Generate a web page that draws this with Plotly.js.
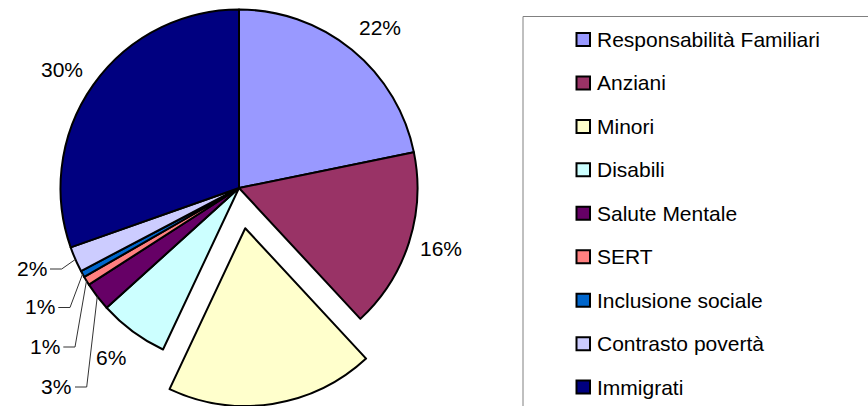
<!DOCTYPE html>
<html>
<head>
<meta charset="utf-8">
<script src="https://cdn.plot.ly/plotly-3.0.1.min.js"></script>
<style>html,body{margin:0;padding:0;background:#fff;overflow:hidden}#chart{width:868px;height:406px}</style>
</head>
<body>
<div id="chart"></div>
<script>
// ---- data ----
const labels = ["Responsabilità Familiari", "Anziani", "Minori", "Disabili", "Salute Mentale", "SERT", "Inclusione sociale", "Contrasto povertà", "Immigrati"];
const values = [21.8, 16.3, 18.9, 6.3, 2.6, 0.8, 0.6, 2.3, 30.4];
const colors = ["#9999FF", "#993366", "#FFFFCC", "#CCFFFF", "#660066", "#FF8080", "#0066CC", "#CCCCFF", "#000080"];
const explodedIndex = 2;

// ---- layout constants (pixels) ----
const W = 868, H = 406;
const CX = 239, CY = 188, R = 178.5;
const PULL_PX = 40.7;
const FONT = {family: "Liberation Sans, Arial, Helvetica, sans-serif", size: 21, color: "#000"};
// small slices get labels with leader lines: text centre and elbow
const smallLabels = {
  7: {tx: 31.5, ty: 268, x0: 50, ex: 61.7},
  6: {tx: 39.5, ty: 306.5, x0: 58.3, ex: 70},
  5: {tx: 44.5, ty: 346, x0: 63.3, ex: 75},
  4: {tx: 56, ty: 386, x0: 75, ex: 86.7}
};
// small nudges of the outside labels of the big slices
const labelNudge = {0: [6.5, 4], 1: [0, -5], 8: [-3.5, 4.5], 3: [-1, -1]};

const px = x => x / W, py = y => 1 - y / H;
const total = values.reduce((a, b) => a + b, 0);
let cum = 0; const mids = [];
values.forEach(v => { mids.push((cum + v / 2) / total); cum += v; });
const dir = f => { const a = f * 2 * Math.PI; return [Math.sin(a), -Math.cos(a)]; };

const off = dir(mids[explodedIndex]).map(d => d * PULL_PX);
const cBx = CX + off[0], cBy = CY + off[1];
const rB = Math.min(R, H - cBy, cBy);

const transparent = "rgba(0,0,0,0)";
const common = {
  type: "pie", labels: labels, values: values, sort: false, direction: "clockwise", rotation: 0,
  textinfo: "none", hoverinfo: "label+percent", showlegend: false
};
const traceA = Object.assign({}, common, {
  domain: {x: [px(CX - R), px(CX + R)], y: [py(CY + R), py(CY - R)]},
  marker: {
    colors: colors.map((c, i) => i === explodedIndex ? transparent : c),
    line: {color: "#000", width: colors.map((c, i) => i === explodedIndex ? 0 : 2)}
  }
});
const traceB = Object.assign({}, common, {
  domain: {x: [px(cBx - rB), px(cBx + rB)], y: [Math.max(0, py(cBy + rB)), py(cBy - rB)]},
  marker: {
    colors: colors.map((c, i) => i === explodedIndex ? c : transparent),
    line: {color: "#000", width: colors.map((c, i) => i === explodedIndex ? 2 : 0)}
  }
});

const annotations = [], shapes = [];
values.forEach((v, i) => {
  const txt = Math.round(v / total * 100) + "%";
  const d = dir(mids[i]);
  if (smallLabels[i]) {
    const s = smallLabels[i];
    annotations.push({xref: "paper", yref: "paper", x: px(s.tx), y: py(s.ty), text: txt, showarrow: false,
      xanchor: "center", yanchor: "middle", font: FONT});
    const ex = CX + R * d[0], ey = CY + R * d[1];
    shapes.push({type: "path", xref: "paper", yref: "paper",
      path: `M${px(s.x0)},${py(s.ty + 1)} L${px(s.ex)},${py(s.ty + 1)} L${px(ex)},${py(ey)}`,
      line: {color: "#333", width: 1}});
  } else {
    const cx = i === explodedIndex ? cBx : CX, cy = i === explodedIndex ? cBy : CY;
    const dist = R + 34;
    const n = labelNudge[i] || [0, 0];
    const lx = cx + dist * d[0] + n[0], ly = cy + dist * d[1] + n[1];
    if (ly > H - 10) return; // label falls outside the picture (as in the original)
    annotations.push({xref: "paper", yref: "paper", x: px(lx), y: py(ly), text: txt,
      showarrow: false, xanchor: "center", yanchor: "middle", font: FONT});
  }
});

// legend box and entries
shapes.push({type: "rect", xref: "paper", yref: "paper", x0: px(523), x1: px(900), y0: py(16.5), y1: py(430),
  line: {color: "#808080", width: 1}, fillcolor: transparent});
const LEG_Y0 = 39.5, LEG_STEP = 43.45;
labels.forEach((lab, i) => {
  const y = LEG_Y0 + i * LEG_STEP;
  shapes.push({type: "rect", xref: "paper", yref: "paper", x0: px(576.5), x1: px(590), y0: py(y + 6.5), y1: py(y - 6.5),
    fillcolor: colors[i], line: {color: "#000", width: 2}});
  annotations.push({xref: "paper", yref: "paper", x: px(594.5), y: py(y), text: lab, showarrow: false,
    xanchor: "left", yanchor: "middle", font: FONT});
});

const layout = {
  width: W, height: H, margin: {l: 0, r: 0, t: 0, b: 0},
  paper_bgcolor: "#fff", plot_bgcolor: "#fff", showlegend: false,
  annotations: annotations, shapes: shapes
};
Plotly.newPlot("chart", [traceA, traceB], layout, {displayModeBar: false, staticPlot: true});
</script>
</body>
</html>
